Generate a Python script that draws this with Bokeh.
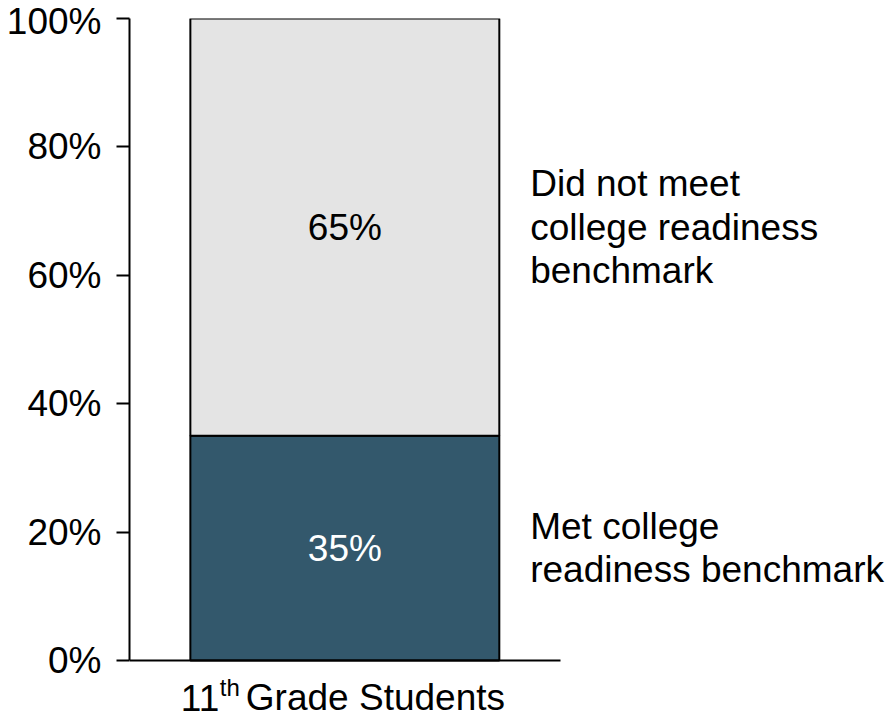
from bokeh.plotting import figure
from bokeh.models import Range1d, FixedTicker, LinearAxis, ColumnDataSource
from bokeh.core.properties import value
from bokeh.embed import file_html
from bokeh.resources import INLINE

# ---- data ----
category = "11th Grade Students"
segments = ["Met college readiness benchmark", "Did not meet college readiness benchmark"]
shares = [0.35, 0.65]
seg_labels = ["35%", "65%"]
side_labels = ["Met college\nreadiness benchmark", "Did not meet\ncollege readiness\nbenchmark"]
colors = ["#33586C", "#E4E4E4"]
label_colors = ["white", "black"]
y_ticks = [0, 0.2, 0.4, 0.6, 0.8, 1.0]
y_tick_labels = ["0%", "20%", "40%", "60%", "80%", "100%"]
cat_parts = ["11", "th", " Grade Students"]

FONT = "Liberation Sans"
FS = "37px"

bottoms, tops, mids = [], [], []
acc = 0.0
for s in shares:
    bottoms.append(acc)
    tops.append(acc + s)
    mids.append(acc + s / 2)
    acc += s

src = ColumnDataSource(dict(
    x=[0] * len(shares), bottom=bottoms, top=tops, mid=mids,
    color=colors, lab=seg_labels, lab_color=label_colors,
    side=side_labels, side_x=[0.6] * len(shares),
))

H = 721
p = figure(width=885, height=H, output_backend="svg", toolbar_location=None,
           x_range=Range1d(-0.697, 1.75), y_range=Range1d(1 - (H - 18) / 642.0, 1),
           x_axis_location=None,
           min_border_left=129, min_border_top=18, min_border_bottom=0,
           min_border_right=0)
p.margin = (0, 0, 0, 0)
p.outline_line_color = None
p.xgrid.visible = False
p.ygrid.visible = False
p.background_fill_color = "white"
p.border_fill_color = "white"

p.vbar(x="x", width=1.0, bottom="bottom", top="top", fill_color="color",
       line_color="black", line_width=2, source=src)

p.text(x="x", y="mid", text="lab", text_color="lab_color", text_align="center",
       text_baseline="middle", text_font=value(FONT), text_font_size=FS, source=src)

p.text(x="side_x", y="mid", text="side", text_color="black", text_align="left",
       text_baseline="middle", text_font=value(FONT), text_font_size=FS,
       text_line_height=1.06, source=src)

# y axis
ya = p.yaxis[0]
ya.bounds = (0, 1)
ya.ticker = FixedTicker(ticks=y_ticks)
ya.major_label_overrides = {t: l for t, l in zip(y_ticks, y_tick_labels)}
ya.major_label_text_font = FONT
ya.major_label_text_font_size = FS
ya.major_label_text_color = "black"
ya.major_label_standoff = 15
ya.major_tick_out = 13
ya.major_tick_in = 0
ya.minor_tick_out = 0
ya.minor_tick_in = 0
ya.major_tick_line_width = 2
ya.axis_line_width = 2
ya.axis_line_color = "black"
ya.major_tick_line_color = "black"

# x axis: line only, drawn at y = 0
xa = LinearAxis(fixed_location=0, ticker=FixedTicker(ticks=[]), bounds=(-0.697, 0.697),
                axis_line_width=2, axis_line_color="black",
                major_tick_out=0, major_tick_in=0, minor_tick_out=0, minor_tick_in=0,
                major_label_text_font_size="0px", major_label_standoff=0)
p.add_layout(xa, "above")

# category label with superscript
cat_src = ColumnDataSource(dict(
    x=[0, 0, 0], y=[0, 0, 0], t=cat_parts,
    dx=[-164, -125, -99], dy=[37, 27, 37], fs=[FS, "24px", FS],
))
p.text(x="x", y="y", text="t", x_offset="dx", y_offset="dy", text_font_size="fs",
       text_font=value(FONT), text_color="black", text_align="left",
       text_baseline="middle", source=cat_src)

open("out.html", "w").write(file_html(p, INLINE))
